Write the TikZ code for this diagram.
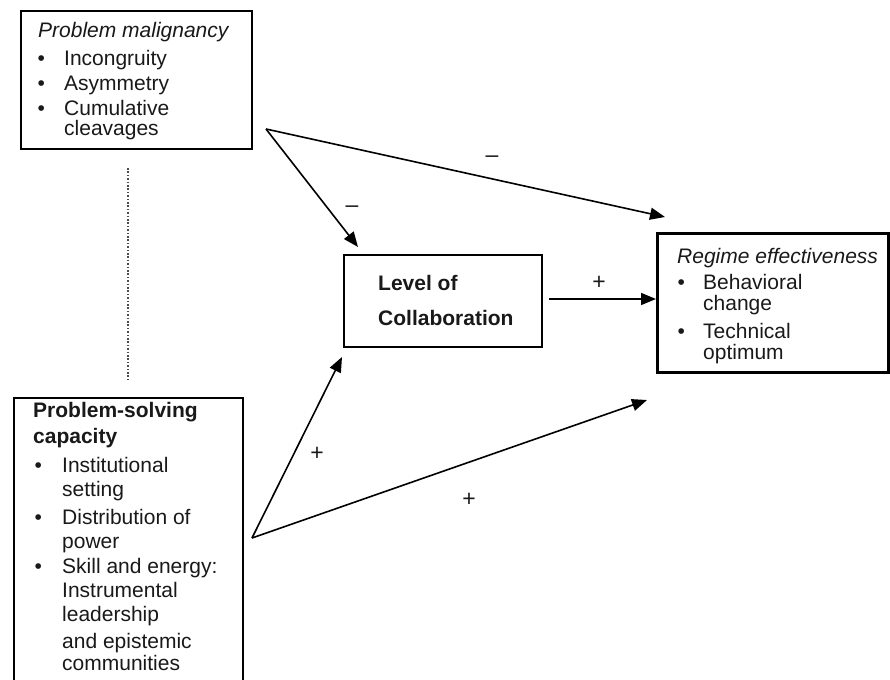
\documentclass[tikz,border=0pt]{standalone}
\usepackage{fontspec}
\setmainfont{Liberation Sans}
\usetikzlibrary{arrows.meta,calc}
\begin{document}
\begin{tikzpicture}[x=1pt,y=-1pt,
  box/.style={draw, line width=2pt, inner sep=0pt, anchor=north west},
  lbl/.style={anchor=base west, inner sep=0pt, text=black!90, font=\fontsize{21}{25}\selectfont},
  ttl/.style={lbl, font=\fontsize{21}{25}\selectfont\itshape},
  btl/.style={lbl, font=\fontsize{21}{25}\selectfont\bfseries},
  sign/.style={inner sep=0pt, text=black!90, font=\fontsize{23}{26}\selectfont},
  arr/.style={line width=1.6pt, -{Triangle[length=15pt,width=12pt]}},
  link/.style={line width=1.6pt, gray!60!black, dash pattern=on 1.6pt off 1.8pt},
]
\useasboundingbox (0,0) rectangle (890,679);

% boxes
\node[box, minimum width=231pt, minimum height=138pt] (pm) at (20,10) {};
\node[box, minimum width=229pt, minimum height=300pt] (psc) at (13,397) {};
\node[box, minimum width=198pt, minimum height=92pt] (lc) at (343,254) {};
\node[box, line width=3pt, minimum width=231pt, minimum height=139pt] (re) at (656,232) {};

% problem malignancy
\node[ttl] (pmT) at (38,38) {Problem malignancy};
\node[lbl] (pmB1) at (37.5,66) {•};
\node[lbl] (pmI1) at (64,66) {Incongruity};
\node[lbl] (pmB2) at (37.5,91) {•};
\node[lbl] (pmI2) at (64,91) {Asymmetry};
\node[lbl] (pmB3) at (37.5,116) {•};
\node[lbl] (pmI3) at (64,116) {Cumulative};
\node[lbl] (pmI3b) at (64,136) {cleavages};

% problem-solving capacity
\node[btl] (psT1) at (33,417) {Problem-solving};
\node[btl] (psT2) at (33,443) {capacity};
\node[lbl] (psB1) at (34.5,472) {•};
\node[lbl] (psI1) at (62,472) {Institutional};
\node[lbl] (psI1b) at (62,496) {setting};
\node[lbl] (psB2) at (34.5,524) {•};
\node[lbl] (psI2) at (62,524) {Distribution of};
\node[lbl] (psI2b) at (62,548) {power};
\node[lbl] (psB3) at (34.5,573) {•};
\node[lbl] (psI3) at (62,573) {Skill and energy:};
\node[lbl] (psI3b) at (62,597) {Instrumental};
\node[lbl] (psI3c) at (62,621) {leadership};
\node[lbl] (psI3d) at (62,648) {and epistemic};
\node[lbl] (psI3e) at (62,670) {communities};

% level of collaboration
\node[btl] (lcT1) at (378,290) {Level of};
\node[btl] (lcT2) at (378,325) {Collaboration};

% regime effectiveness
\node[ttl] (reT) at (677,263) {Regime effectiveness};
\node[lbl] (reB1) at (677.5,289) {•};
\node[lbl] (reI1) at (703,289) {Behavioral};
\node[lbl] (reI1b) at (703,310) {change};
\node[lbl] (reB2) at (677.5,338) {•};
\node[lbl] (reI2) at (703,338) {Technical};
\node[lbl] (reI2b) at (703,359) {optimum};

% connector end points
\coordinate (s1) at (266,129);
\coordinate (s2) at (252,538);
\coordinate (e1) at ($(lc.north west)+(15,-7)$);
\coordinate (e2) at ($(re.north west)+(9,-15)$);
\coordinate (e3) at ($(lc.south west)+(-1,9)$);
\coordinate (e4) at ($(re.south west)+(-9,26)$);
\coordinate (h0) at (549,299);
\coordinate (d0) at (128,168);
\coordinate (d1) at (128,380);

% connectors
\draw[link] (d0) -- (d1);
\draw[arr] (s1) -- (e1);
\draw[arr] (s1) -- (e2);
\draw[arr] (h0) -- (h0 -| re.west);
\draw[arr] (s2) -- (e3);
\draw[arr] (s2) -- (e4);

% signs
\node[sign] (m1) at (352,209) {–};
\node[sign] (m2) at (492,159) {–};
\node[sign] (p1) at (599,283) {+};
\node[sign] (p2) at (317,454) {+};
\node[sign] (p3) at (469,500) {+};
\end{tikzpicture}
\end{document}
